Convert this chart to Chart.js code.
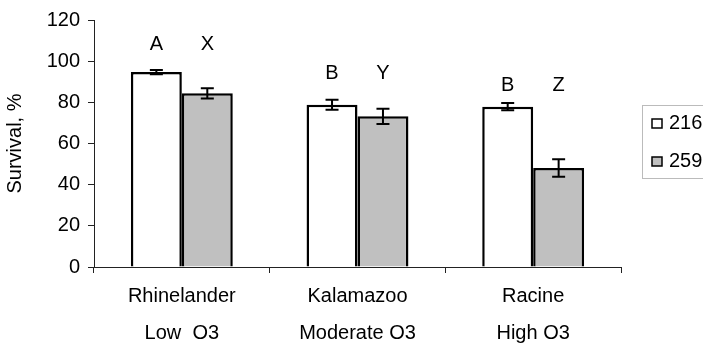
<!DOCTYPE html>
<html>
<head>
<meta charset="utf-8">
<script src="https://cdn.jsdelivr.net/npm/chart.js@4.4.1/dist/chart.umd.min.js"></script>
<style>
html, body { margin: 0; padding: 0; background: #fff; overflow: hidden; }
</style>
</head>
<body>
<canvas id="chart" width="703" height="351"></canvas>
<script>
const sites = [["Rhinelander", "Low  O3"], ["Kalamazoo", "Moderate O3"], ["Racine", "High O3"]];
const clones = ["216", "259"];
const survival216 = [94.7, 78.8, 77.9];
const survival259 = [84.4, 73.2, 48.1];
const se216 = [1.0, 2.4, 1.8];
const se259 = [2.5, 3.7, 4.2];
const letters216 = ["A", "B", "B"];
const letters259 = ["X", "Y", "Z"];
const letterLevels = [108, 94, 88];
const yTicks = [0, 20, 40, 60, 80, 100, 120];

const FONT = "'Liberation Sans', Arial, sans-serif";

const extras = {
    id: "extras",
    afterDatasetsDraw(chart) {
        const ctx = chart.ctx;
        const y = chart.scales.y;
        const errs = [se216, se259];
        const letters = [letters216, letters259];

        ctx.save();
        ctx.strokeStyle = "#000";
        ctx.lineWidth = 2;
        chart.data.datasets.forEach((ds, i) => {
            chart.getDatasetMeta(i).data.forEach((bar, j) => {
                const top = y.getPixelForValue(ds.data[j] + errs[i][j]);
                const bot = y.getPixelForValue(ds.data[j] - errs[i][j]);
                ctx.beginPath();
                ctx.moveTo(bar.x, top);
                ctx.lineTo(bar.x, bot);
                ctx.moveTo(bar.x - 6.5, top);
                ctx.lineTo(bar.x + 6.5, top);
                ctx.moveTo(bar.x - 6.5, bot);
                ctx.lineTo(bar.x + 6.5, bot);
                ctx.stroke();
            });
        });

        ctx.fillStyle = "#000";
        ctx.font = "20px " + FONT;
        ctx.textAlign = "center";
        ctx.textBaseline = "middle";
        letters.forEach((ls, i) => {
            chart.getDatasetMeta(i).data.forEach((bar, j) => {
                ctx.fillText(ls[j], bar.x, y.getPixelForValue(letterLevels[j]));
            });
        });

        // legend box, cut off by the right edge like the original
        ctx.strokeStyle = "#bbb";
        ctx.lineWidth = 1;
        ctx.strokeRect(642.5, 105.5, 80, 73);
        ctx.textAlign = "left";
        chart.data.datasets.forEach((ds, i) => {
            const cy = 123 + i * 38;
            ctx.fillStyle = ds.backgroundColor;
            ctx.fillRect(652, cy - 4, 10, 9);
            ctx.strokeStyle = "#000";
            ctx.lineWidth = 1.5;
            ctx.strokeRect(652, cy - 4, 10, 9);
            ctx.fillStyle = "#000";
            ctx.fillText(ds.label, 669, cy);
        });
        ctx.restore();
    }
};

new Chart(document.getElementById("chart"), {
    type: "bar",
    data: {
        labels: sites,
        datasets: [
            {
                label: clones[0],
                data: survival216,
                backgroundColor: "#ffffff",
                borderColor: "#000",
                borderWidth: 2.5
            },
            {
                label: clones[1],
                data: survival259,
                backgroundColor: "#c0c0c0",
                borderColor: "#000",
                borderWidth: 2.5
            }
        ]
    },
    options: {
        responsive: false,
        animation: false,
        layout: { padding: { top: 16, right: 82, left: 0, bottom: 0 } },
        categoryPercentage: 0.58,
        barPercentage: 1.0,
        plugins: { legend: { display: false }, tooltip: { enabled: false } },
        scales: {
            x: {
                afterFit: s => { s.height = 84; },
                grid: { drawOnChartArea: false, tickLength: 6, color: "#222" },
                border: { color: "#222", width: 1 },
                ticks: {
                    color: "#000",
                    padding: 5,
                    font: { family: FONT, size: 20, lineHeight: 1.85 }
                }
            },
            y: {
                min: 0,
                max: 120,
                afterFit: s => { s.width = 94; },
                afterBuildTicks: s => { s.ticks = yTicks.map(v => ({ value: v })); },
                grid: { drawOnChartArea: false, tickLength: 6, color: "#222" },
                border: { color: "#222", width: 1 },
                ticks: {
                    color: "#000",
                    padding: 8,
                    font: { family: FONT, size: 20 }
                },
                title: {
                    display: true,
                    text: "Survival, %",
                    color: "#000",
                    padding: { top: 3, bottom: 0 },
                    font: { family: FONT, size: 20 }
                }
            }
        }
    },
    plugins: [extras]
});
</script>
</body>
</html>
